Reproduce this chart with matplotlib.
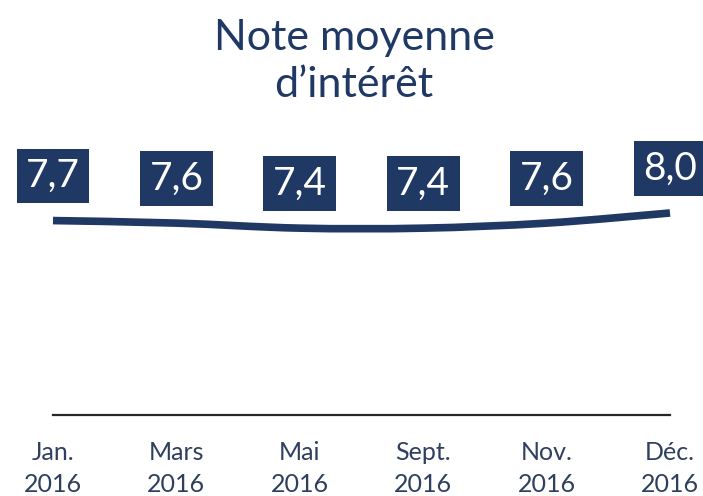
import matplotlib
matplotlib.use("Agg")
import matplotlib.pyplot as plt
from matplotlib.path import Path
import matplotlib.patches as pat

# data
months = ["Jan.", "Mars", "Mai", "Sept.", "Nov.", "Déc."]
years = ["2016", "2016", "2016", "2016", "2016", "2016"]
scores = [7.7, 7.6, 7.4, 7.4, 7.6, 8.0]
score_labels = ["7,7", "7,6", "7,4", "7,4", "7,6", "8,0"]

navy = "#1f3864"
label_col = "#2f3f5e"
plt.rcParams['font.family'] = ['Lato', 'DejaVu Sans']

fig = plt.figure(figsize=(7.03, 4.96), dpi=100)
ax = fig.add_axes([53/703, 81/496, 617/703, 252.5/496])

x = list(range(len(scores)))

# smoothed line (bezier through the points, like the office "smooth line")
pts = list(zip(x, scores))
verts = [pts[0]]
codes = [Path.MOVETO]
for i in range(len(pts) - 1):
    p0 = pts[i - 1] if i > 0 else pts[i]
    p1 = pts[i]
    p2 = pts[i + 1]
    p3 = pts[i + 2] if i + 2 < len(pts) else pts[i + 1]
    c1 = (p1[0] + (p2[0] - p0[0]) / 6, p1[1] + (p2[1] - p0[1]) / 6)
    c2 = (p2[0] - (p3[0] - p1[0]) / 6, p2[1] - (p3[1] - p1[1]) / 6)
    verts += [c1, c2, p2]
    codes += [Path.CURVE4] * 3
curve = pat.PathPatch(Path(verts, codes), fill=False, edgecolor=navy,
                      linewidth=5.5, capstyle='butt', clip_on=False)
ax.add_patch(curve)

for xi, v, s in zip(x, scores, score_labels):
    ax.annotate(s, (xi, v), xytext=(0, 32), textcoords='offset points',
                ha='center', va='center', fontsize=28, color='white',
                bbox=dict(boxstyle='square,pad=0.24', fc=navy, ec='none'),
                annotation_clip=False)

ax.set_xlim(0, len(scores) - 1)
ax.set_ylim(0, 10)
ax.set_xticks(x)
ax.set_xticklabels([m + "\n" + y for m, y in zip(months, years)],
                   fontsize=18, color=label_col, linespacing=1.45)
ax.tick_params(axis='x', length=0, pad=19)
ax.set_yticks([])
for side in ['top', 'left', 'right']:
    ax.spines[side].set_visible(False)
ax.spines['bottom'].set_color('#262626')
ax.spines['bottom'].set_linewidth(1.6)

fig.text(354/703, 1 - 97/496, "Note moyenne\nd\u2019intérêt", ha='center',
         va='baseline', fontsize=31, color=navy, linespacing=1.3)

fig.savefig("out.png", dpi=100)
